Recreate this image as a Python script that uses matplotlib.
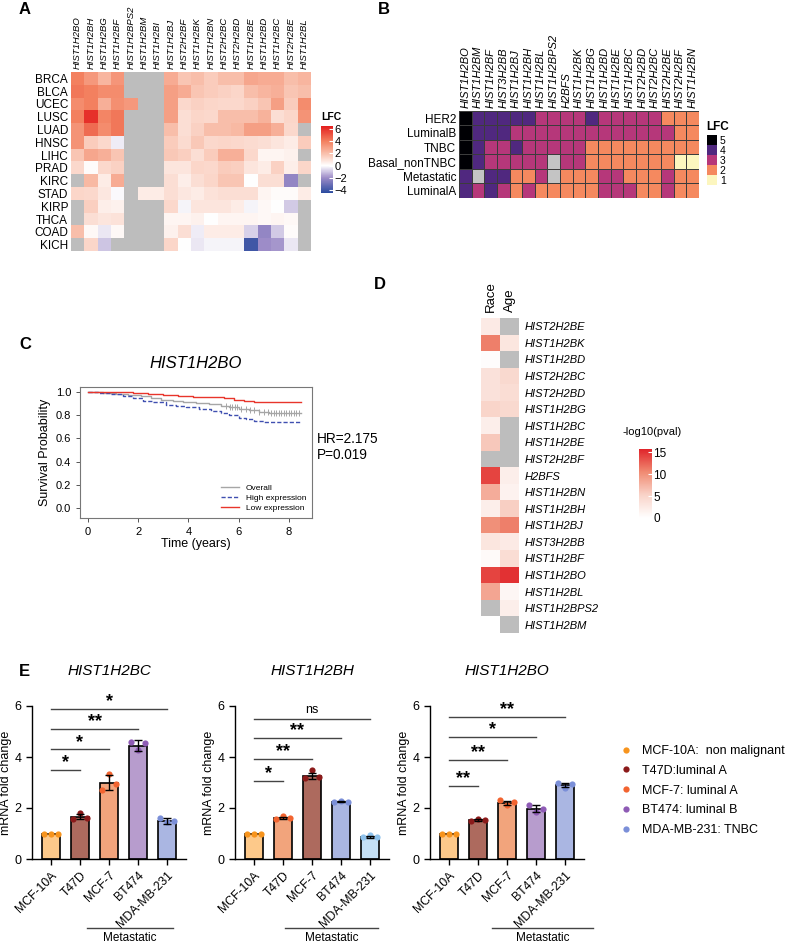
import numpy as np
import matplotlib
matplotlib.use("Agg")
import matplotlib.pyplot as plt
from matplotlib.colors import LinearSegmentedColormap, ListedColormap, BoundaryNorm, Normalize
from matplotlib.lines import Line2D

plt.rcParams["font.family"] = ["Liberation Sans", "DejaVu Sans"]

nan = np.nan

# ---------------- panel A: pan-cancer LFC
a_genes = ["HIST1H2BO", "HIST1H2BH", "HIST1H2BG", "HIST1H2BF", "HIST1H2BPS2", "HIST1H2BM",
           "HIST1H2BI", "HIST1H2BJ", "HIST2H2BF", "HIST1H2BK", "HIST1H2BN", "HIST2H2BC",
           "HIST2H2BD", "HIST1H2BE", "HIST1H2BD", "HIST1H2BC", "HIST2H2BE", "HIST1H2BL"]
a_cancers = ["BRCA", "BLCA", "UCEC", "LUSC", "LUAD", "HNSC", "LIHC", "PRAD", "KIRC",
             "STAD", "KIRP", "THCA", "COAD", "KICH"]
a_lfc = [
    [4.0, 3.2, 2.3, 3.3, nan, nan, nan, 2.6, 1.8, 2.0, 1.6, 2.0, 2.0, 2.8, 2.6, 2.6, 2.0, 2.3],
    [4.2, 4.0, 3.6, 3.6, nan, nan, nan, 3.0, 2.6, 1.8, 1.6, 1.4, 1.3, 2.0, 2.3, 2.5, 1.8, 2.0],
    [3.6, 4.0, 2.5, 3.5, 3.2, nan, nan, 3.0, 1.2, 1.4, 1.3, 1.2, 1.2, 1.4, 1.8, 3.0, 1.6, 3.6],
    [4.0, 6.0, 3.8, 4.2, nan, nan, nan, 3.0, 1.0, 1.3, 1.2, 2.0, 2.0, 2.0, 2.4, 1.0, 1.3, 3.4],
    [3.4, 4.5, 3.6, 4.2, nan, nan, nan, 2.0, 1.0, 1.4, 2.0, 2.0, 2.2, 3.0, 3.0, 2.5, 1.2, nan],
    [3.4, 1.6, 1.2, -0.3, nan, nan, nan, 1.6, 1.1, 1.7, 1.2, 1.3, 1.2, 1.1, 1.0, 0.8, 0.6, 1.6],
    [1.8, 2.8, 2.5, 1.8, nan, nan, nan, 1.7, 1.5, 1.0, 1.6, 2.5, 2.5, 1.2, 0.3, 0.3, 0.4, nan],
    [1.2, 0.1, 1.2, 1.4, nan, nan, nan, 0.8, 0.8, 1.3, 1.2, 1.6, 1.5, 0.8, 0.6, 1.4, 0.5, 1.3],
    [nan, 2.2, 0.6, 2.6, nan, nan, nan, 1.0, 0.5, 1.0, 1.3, 1.8, 1.8, 0.0, 1.0, 1.0, -2.2, nan],
    [1.3, 1.2, 0.7, -0.1, nan, 0.6, 0.6, 1.0, 0.7, 0.6, 0.9, 1.0, 1.0, 1.0, 0.3, 0.1, 0.1, 0.6],
    [nan, 1.5, 0.5, 0.4, nan, nan, nan, 1.2, -0.2, 0.8, 0.8, 0.8, 0.6, -0.2, 0.2, 0.0, -0.9, nan],
    [nan, 1.0, 0.8, 0.9, nan, nan, nan, 0.3, 0.3, 0.4, 0.0, 0.3, 0.3, 0.3, 0.2, 0.3, 0.2, nan],
    [2.0, 0.2, -0.4, 0.2, nan, nan, nan, 0.4, 1.0, -0.3, 0.6, 0.6, 0.6, -0.8, -2.2, -0.9, 0.1, nan],
    [nan, 1.3, -1.0, nan, nan, nan, nan, 1.3, 0.0, -0.4, -0.2, -0.2, -0.2, -4.0, -2.0, -1.8, -0.4, nan],
]

# ---------------- panel B: breast cancer subtypes (LFC level)
b_genes = ["HIST1H2BO", "HIST1H2BM", "HIST1H2BF", "HIST3H2BB", "HIST1H2BJ", "HIST1H2BH",
           "HIST1H2BL", "HIST1H2BPS2", "H2BFS", "HIST1H2BK", "HIST1H2BG", "HIST1H2BD",
           "HIST1H2BE", "HIST1H2BC", "HIST2H2BD", "HIST2H2BC", "HIST2H2BE", "HIST2H2BF",
           "HIST1H2BN"]
b_groups = ["HER2", "LuminalB", "TNBC", "Basal_nonTNBC", "Metastatic", "LuminalA"]
b_lfc = [
    [5, 4, 4, 4, 4, 4, 3, 3, 3, 3, 4, 3, 3, 3, 3, 3, 2, 2, 2],
    [5, 4, 4, 4, 3, 3, 3, 3, 3, 3, 3, 3, 3, 3, 3, 3, 3, 2, 2],
    [5, 4, 3, 3, 4, 3, 3, 3, 3, 3, 2, 2, 2, 2, 2, 2, 2, 2, 2],
    [5, 4, 3, 3, 3, 3, 3, nan, 3, 3, 2, 2, 2, 2, 2, 2, 2, 1, 1],
    [4, nan, 4, 4, 2, 2, 3, nan, 2, 2, 2, 3, 3, 2, 2, 2, 3, 2, 2],
    [4, 3, 4, 3, 2, 3, 2, 2, 2, 2, 2, 3, 3, 3, 2, 2, 3, 2, 2],
]

# ---------------- panel C: survival
low_t = [0, 1.8, 2.4, 3.0, 3.6, 4.2, 4.8, 5.4, 5.8, 6.2, 6.6, 8.5]
low_s = [1.0, 0.99, 0.983, 0.975, 0.966, 0.96, 0.954, 0.945, 0.935, 0.92, 0.912, 0.912]
overall_t = [0, 0.6, 1.1, 1.6, 2.1, 2.5, 2.9, 3.4, 3.8, 4.3, 4.8, 5.3, 5.6, 6.0, 6.4, 6.8, 7.2, 8.5]
overall_s = [1.0, 0.993, 0.985, 0.975, 0.963, 0.95, 0.935, 0.925, 0.915, 0.905, 0.895, 0.88,
             0.87, 0.855, 0.842, 0.83, 0.82, 0.82]
high_t = [0, 0.4, 0.9, 1.4, 1.8, 2.2, 2.6, 3.1, 3.5, 3.9, 4.4, 4.9, 5.3, 5.6, 6.0, 6.3, 6.6, 7.0, 8.5]
high_s = [1.0, 0.99, 0.98, 0.965, 0.95, 0.925, 0.91, 0.89, 0.88, 0.868, 0.855, 0.835, 0.82,
          0.805, 0.78, 0.765, 0.75, 0.742, 0.742]
censor_t = [5.5, 5.65, 5.75, 5.85, 5.95, 6.1, 6.3, 6.45, 6.6, 6.8, 7.0, 7.15, 7.3, 7.4, 7.5,
            7.6, 7.7, 7.8, 7.9, 8.0, 8.1, 8.2, 8.3, 8.4]

# ---------------- panel D: -log10(pval)
d_genes = ["HIST2H2BE", "HIST1H2BK", "HIST1H2BD", "HIST2H2BC", "HIST2H2BD", "HIST1H2BG",
           "HIST1H2BC", "HIST1H2BE", "HIST2H2BF", "H2BFS", "HIST1H2BN", "HIST1H2BH",
           "HIST1H2BJ", "HIST3H2BB", "HIST1H2BF", "HIST1H2BO", "HIST1H2BL", "HIST1H2BPS2",
           "HIST1H2BM"]
d_cols = ["Race", "Age"]
d_race = [2.5, 11, 0.3, 3.5, 3.5, 5, 2, 6, nan, 14, 8, 2, 10, 3, 0.5, 14, 8.5, nan, 0]
d_age = [nan, 3, nan, 4.5, 4, 4.5, nan, nan, nan, 2, 1.5, 5.5, 11, 2.5, 4, 15, 1, 2, nan]

# ---------------- panel E: qPCR
e_cells = ["MCF-10A", "T47D", "MCF-7", "BT474", "MDA-MB-231"]
e_titles = ["HIST1H2BC", "HIST1H2BH", "HIST1H2BO"]
e_means = [[1.0, 1.65, 3.0, 4.45, 1.5],
           [1.0, 1.6, 3.25, 2.25, 0.88],
           [1.0, 1.52, 2.2, 1.98, 2.9]]
e_reps = [
    [[1, 1, 1], [1.58, 1.8, 1.62], [2.7, 3.35, 2.95], [4.6, 4.28, 4.55], [1.62, 1.45, 1.5]],
    [[1, 1, 1], [1.55, 1.7, 1.62], [3.18, 3.5, 3.2], [2.22, 2.28, 2.25], [0.85, 0.95, 0.88]],
    [[1, 1, 1], [1.5, 1.58, 1.53], [2.3, 2.1, 2.25], [2.1, 1.85, 1.95], [2.97, 2.8, 2.95]],
]
e_sem = [[0, 0.1, 0.3, 0.2, 0.12], [0, 0.05, 0.12, 0.03, 0.04], [0, 0.03, 0.08, 0.15, 0.07]]
e_sig_y = [[3.49, 4.3, 5.1, 5.88], [3.06, 3.92, 4.75, 5.5], [2.86, 3.88, 4.78, 5.57]]
e_sig_txt = [["*", "*", "**", "*"], ["*", "**", "**", "ns"], ["**", "**", "*", "**"]]
legend_labels = ["MCF-10A:  non malignant", "T47D:luminal A", "MCF-7: luminal A",
                 "BT474: luminal B", "MDA-MB-231: TNBC"]

# colours
c_lo, d_lo = "#fdc98a", "#f7941d"
c_br, d_br = "#ad6a5e", "#8b1a1a"
c_sa, d_sa = "#f2a47c", "#f26430"
c_pu, d_pu = "#b79ccd", "#8e5bb5"
c_la, d_la = "#aab6e2", "#7b8fd8"
c_lb, d_lb = "#c4dff5", "#8ec2ec"
e_face = [[c_lo, c_br, c_sa, c_pu, c_la], [c_lo, c_sa, c_br, c_la, c_lb], [c_lo, c_br, c_sa, c_pu, c_la]]
e_dot = [[d_lo, d_br, d_sa, d_pu, d_la], [d_lo, d_sa, d_br, d_la, d_lb], [d_lo, d_br, d_sa, d_pu, d_la]]

W, H = 786, 946
fig = plt.figure(figsize=(W / 100, H / 100), dpi=100)


def px_axes(l, t, r, b):
    return fig.add_axes([l / W, 1 - b / H, (r - l) / W, (b - t) / H])


def ftext(x, y, s, **kw):
    fig.text(x / W, 1 - y / H, s, **kw)


def panel(x, y, s):
    ftext(x, y, s, fontsize=12, fontweight="bold", va="top", ha="left")


# ===== A
ax = px_axes(71, 72, 311, 251)
cmap_a = LinearSegmentedColormap.from_list(
    "lfc", [(0, "#2b4b9f"), (0.227, "#9d8cc8"), (0.409, "#ffffff"), (0.591, "#f9bfab"),
            (0.773, "#f3805f"), (1, "#e41e1e")])
cmap_a.set_bad("#bdbdbd")
im = ax.imshow(np.ma.masked_invalid(np.array(a_lfc)), cmap=cmap_a, norm=Normalize(-4.5, 6.5),
               aspect="auto", interpolation="nearest")
ax.set_xticks(range(len(a_genes)))
ax.set_xticklabels(a_genes, rotation=90, fontstyle="italic", fontsize=6.8)
ax.xaxis.tick_top()
ax.set_yticks(range(len(a_cancers)))
ax.set_yticklabels(a_cancers, fontsize=8.5)
ax.tick_params(length=0, pad=2)
for s in ax.spines.values():
    s.set_visible(False)

cax = px_axes(321, 126, 333, 193)
cb = fig.colorbar(im, cax=cax, ticks=[-4, -2, 0, 2, 4, 6])
cb.outline.set_visible(False)
cax.tick_params(labelsize=8, length=3, direction="in", color="white", pad=1)
ftext(321, 117, "LFC", fontsize=7.5, fontweight="bold", va="center")
panel(19, 2, "A")

# ===== B
ax = px_axes(459, 111, 699, 198)
cmap_b = ListedColormap(["#fcf6bf", "#f5895f", "#b6377a", "#50287f", "#000004"])
cmap_b.set_bad("#c4c4c4")
norm_b = BoundaryNorm([0.5, 1.5, 2.5, 3.5, 4.5, 5.5], 5)
mb = ax.pcolormesh(np.ma.masked_invalid(np.array(b_lfc, dtype=float)), cmap=cmap_b, norm=norm_b,
                   edgecolors="#3c3c3c", linewidth=0.4)
ax.set_xlim(0, len(b_genes))
ax.set_ylim(len(b_groups), 0)
ax.set_xticks(np.arange(len(b_genes)) + 0.5)
ax.set_xticklabels(b_genes, rotation=90, fontstyle="italic", fontsize=8)
ax.xaxis.tick_top()
ax.set_yticks(np.arange(len(b_groups)) + 0.5)
ax.set_yticklabels(b_groups, fontsize=8.5)
ax.tick_params(length=0, pad=2)
for s in ax.spines.values():
    s.set_visible(False)

cax = px_axes(707, 135, 717, 185)
cb = fig.colorbar(mb, cax=cax, ticks=[1, 2, 3, 4, 5])
cb.outline.set_visible(False)
cb.minorticks_off()
cax.tick_params(which="both", labelsize=7.5, length=0, pad=2)
ftext(706, 127, "LFC", fontsize=8.5, fontweight="bold", va="center")
panel(378, 2, "B")

# ===== C
ax = px_axes(80, 387, 312, 518)
ax.step(overall_t, overall_s, where="post", color="#a6a6a6", lw=1, label="Overall")
ax.step(high_t, high_s, where="post", color="#3f4fb0", lw=1, ls=(0, (3, 1.5)), label="High expression")
ax.step(low_t, low_s, where="post", color="#e8352b", lw=1, label="Low expression")
cy = [overall_s[np.searchsorted(overall_t, t, side="right") - 1] for t in censor_t]
ax.plot(censor_t, cy, ls="none", marker="|", ms=5, mew=0.7, color="#a6a6a6")
ax.set_xlim(-0.32, 8.92)
ax.set_ylim(-0.086, 1.043)
ax.set_xticks([0, 2, 4, 6, 8])
ax.set_yticks([0, 0.2, 0.4, 0.6, 0.8, 1.0])
ax.set_yticklabels([f"{v:.1f}" for v in [0, 0.2, 0.4, 0.6, 0.8, 1.0]])
ax.tick_params(labelsize=8, length=3, width=0.7, color="#555555")
for s in ax.spines.values():
    s.set_color("#777777")
    s.set_linewidth(0.8)
ax.set_xlabel("Time (years)", fontsize=9, labelpad=1)
ax.set_ylabel("Survival Probability", fontsize=9, labelpad=3)
ax.set_title("HIST1H2BO", fontstyle="italic", fontsize=12, pad=14)
ax.legend(loc="lower right", fontsize=6, frameon=False, handlelength=2.2, labelspacing=0.25,
          borderaxespad=0.3, handletextpad=0.8)
ftext(317, 439, "HR=2.175", fontsize=9.8, va="center")
ftext(317, 455, "P=0.019", fontsize=9.8, va="center")
panel(19, 337, "C")

# ===== D
ax = px_axes(481, 318, 519, 633)
cmap_d = LinearSegmentedColormap.from_list("p", ["#ffffff", "#f9d3c8", "#f08a72", "#e0242a"])
cmap_d.set_bad("#bdbdbd")
dmat = np.ma.masked_invalid(np.array([d_race, d_age], dtype=float).T)
imd = ax.imshow(dmat, cmap=cmap_d, vmin=0, vmax=15.7, aspect="auto", interpolation="nearest")
ax.set_xticks([0, 1])
ax.set_xticklabels(d_cols, rotation=90, fontsize=9.5)
ax.xaxis.tick_top()
ax.set_yticks(range(len(d_genes)))
ax.set_yticklabels(d_genes, fontstyle="italic", fontsize=8)
ax.yaxis.tick_right()
ax.tick_params(length=0, pad=4)
for s in ax.spines.values():
    s.set_visible(False)

cax = px_axes(639, 449, 652, 518)
cb = fig.colorbar(imd, cax=cax, ticks=[0, 5, 10, 15])
cb.outline.set_visible(False)
cax.tick_params(labelsize=8.5, length=3, direction="in", color="white", pad=1)
ftext(652, 432, "-log10(pval)", fontsize=8, ha="center", va="center")
panel(374, 277, "D")

# ===== E
lefts = [32, 235, 430]
firsts = [51, 254, 449]
meta_span = [(1.24, 4.2), (1.07, 4.28), (1.48, 4.97)]
x = np.arange(len(e_cells))
for k in range(3):
    l, f0 = lefts[k], firsts[k]
    ax = px_axes(l, 706, l + 154, 859)
    ax.bar(x, e_means[k], width=0.63, color=e_face[k], edgecolor="black", linewidth=1.2, zorder=2)
    for i in range(len(e_cells)):
        ax.scatter(x[i] + np.array([-0.23, 0, 0.23]), e_reps[k][i], s=20, color=e_dot[k][i],
                   zorder=4, linewidths=0, clip_on=False)
        if e_sem[k][i] > 0:
            ax.errorbar(x[i], e_means[k][i], yerr=e_sem[k][i], fmt="none", ecolor="black",
                        capsize=3, elinewidth=1, capthick=1, zorder=5)
    for j in range(4):
        yy = e_sig_y[k][j]
        ax.plot([0, j + 1], [yy, yy], color="#444444", lw=1, clip_on=False, zorder=3)
        if e_sig_txt[k][j] == "ns":
            ax.text((j + 1) / 2, yy + 0.12, "ns", ha="center", va="bottom", fontsize=9)
        else:
            ax.text((j + 1) / 2, yy - 0.05, e_sig_txt[k][j], ha="center", va="bottom",
                    fontsize=13, fontweight="bold")
    ax.set_xlim((l - f0) / 29, (l + 154 - f0) / 29)
    ax.set_ylim(0, 6)
    ax.set_yticks([0, 2, 4, 6])
    ax.set_xticks(x)
    ax.set_xticklabels(e_cells, rotation=45, ha="right", rotation_mode="anchor", fontsize=8.8)
    ax.tick_params(labelsize=9, width=1, length=4)
    ax.tick_params(axis="x", labelsize=8.8)
    ax.spines["top"].set_visible(False)
    ax.spines["right"].set_visible(False)
    ax.spines["left"].set_linewidth(1)
    ax.spines["bottom"].set_linewidth(1)
    ax.set_ylabel("mRNA fold change", fontsize=9, labelpad=2)
    ax.set_title(e_titles[k], fontstyle="italic", fontsize=11, pad=22)
    tr = ax.get_xaxis_transform()
    ax.plot(meta_span[k], [-0.45, -0.45], color="#444444", lw=1, transform=tr, clip_on=False)
    ax.text(np.mean(meta_span[k]), -0.475, "Metastatic", transform=tr, ha="center", va="top",
            fontsize=8.5)
panel(19, 664, "E")

handles = [Line2D([], [], ls="none", marker="o", ms=4.5, mec="none", color=c)
           for c in [d_lo, d_br, d_sa, d_pu, d_la]]
fig.legend(handles, legend_labels, loc="upper left", bbox_to_anchor=(616 / W, 1 - 740 / H),
           frameon=False, fontsize=9, handlelength=0.8, handletextpad=0.9, labelspacing=0.62,
           borderaxespad=0)

fig.savefig("out.png", dpi=100)
